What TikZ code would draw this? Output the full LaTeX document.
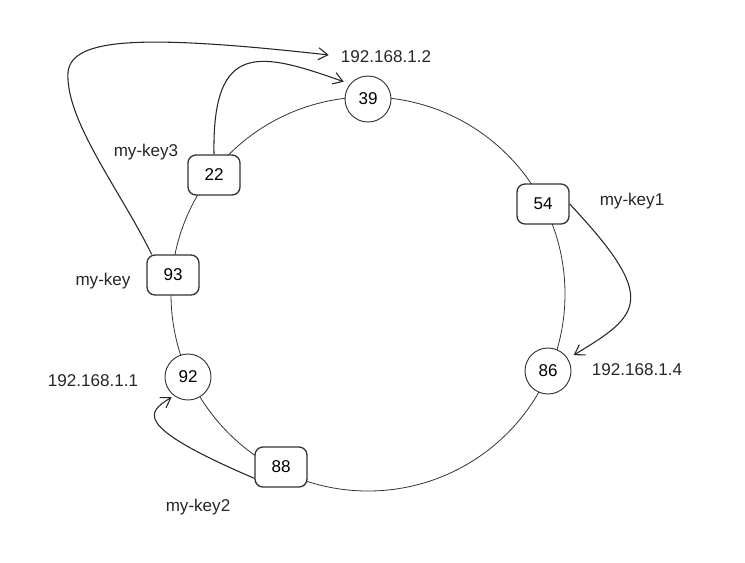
\documentclass[tikz,border=0pt]{standalone}
\usepackage{fontspec}
\setmainfont{Liberation Sans}
\usetikzlibrary{arrows.meta}

\tikzset{
  keybox/.style={draw=black!80, line width=1pt, fill=white, rounded corners=6pt,
    minimum width=39pt, minimum height=30pt, inner sep=0pt},
  hostnode/.style={draw=black!80, line width=0.7pt, fill=white, circle,
    minimum size=34.5pt, inner sep=0pt},
  lbl/.style={text=black!85, inner sep=2pt, text height=9pt, text depth=0pt},
  lookup/.style={line width=0.8pt, black!85, -{Straight Barb[length=7pt,width=9pt]}},
}

\begin{document}
\begin{tikzpicture}[x=0.75pt, y=-0.75pt, font=\fontsize{12.8}{15}\selectfont]
			%%%%% START %%%%%
			\useasboundingbox (0,0) rectangle (745,562);
			
			% ring
			\draw[line width=0.6pt, color=black!80] (368,294) circle[radius=147.75pt];
			
			% hosts
			\node[hostnode] (h39) at (368,99) {39};
			\node[hostnode] (h86) at (548,371) {86};
			\node[hostnode] (h92) at (188,377) {92};
			
			% keys
			\node[keybox] (k22) at (214,175) {22};
			\node[keybox] (k54) at (543,204) {54};
			\node[keybox] (k93) at (173,275) {93};
			\node[keybox] (k88) at (281,467) {88};
			
			\node[lbl] (ip2) at (386,56) {192.168.1.2};
			\node[lbl] (ip4) at (637,369) {192.168.1.4};
			\node[lbl] (ip1) at (93,380) {192.168.1.1};
			\node[lbl] (lkey3) at (146,150) {my-key3};
			\node[lbl] (lkey1) at (632,199.5) {my-key1};
			\node[lbl] (lkey) at (103,279) {my-key};
			\node[lbl] (lkey2) at (198,505.5) {my-key2};
			
			% lookups
			\draw[lookup, shorten >=7pt] ([xshift=4pt]k93.north west) .. controls (120,190) and (65,120) .. (68,72)
			  .. controls (72,38) and (140,34) .. (ip2.west);
			\draw[lookup, shorten >=5pt] (k22.north) .. controls (212,40) and (260,52) .. (h39.140);
			\draw[lookup, shorten >=5pt] (k54.east) .. controls (660,300) and (640,315) .. (h86.32);
			\draw[lookup, shorten >=2pt] (k88.203) .. controls (130,425) and (148,412) .. (h92.233);
			
			%%%%% END %%%%%
		\end{tikzpicture}
\end{document}
